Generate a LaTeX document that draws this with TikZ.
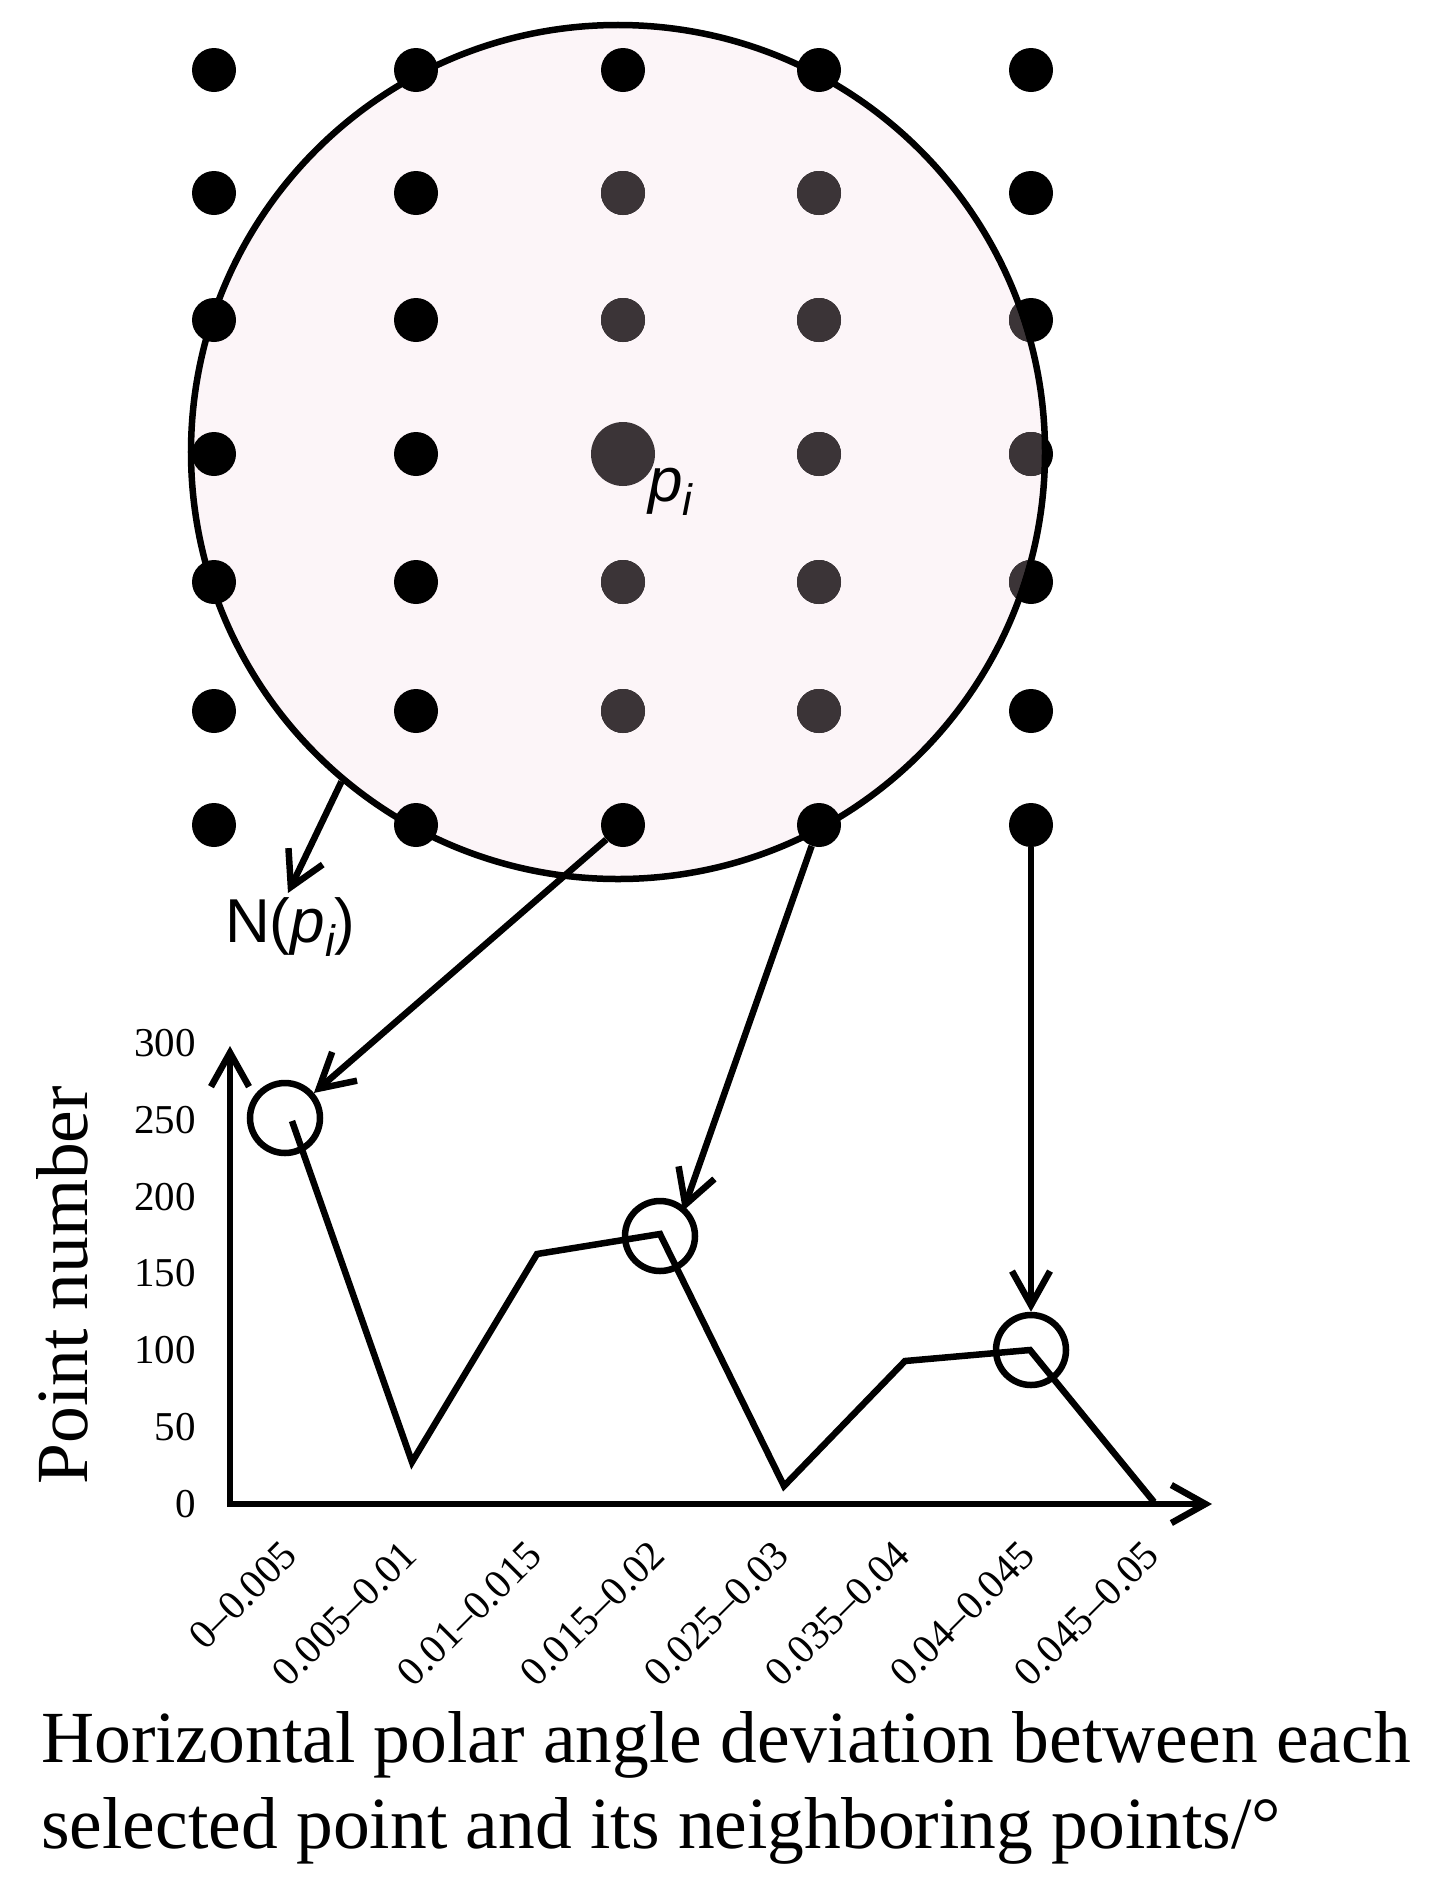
\documentclass[tikz,border=0pt]{standalone}
\usepackage{fontspec}
\setmainfont{Liberation Serif}
\newfontfamily\arialf{Liberation Sans}
\usetikzlibrary{arrows.meta}
\definecolor{pinkfill}{RGB}{252,245,248}
\definecolor{dotgray}{RGB}{59,52,55}
\begin{document}
\begin{tikzpicture}[x=1bp,y=-1bp,
  blk/.style={circle, fill=black, inner sep=0pt, minimum size=44bp},
  arr/.style={-{Straight Barb[length=34bp,width=38bp]}, line width=6.5bp},
  axarr/.style={{Straight Barb[length=34bp,width=38bp]}-{Straight Barb[length=34bp,width=38bp]}, line width=6.5bp},
  mark circ/.style={circle, draw, line width=6.5bp, minimum size=70bp, inner sep=0pt},
  sanslab/.style={font=\arialf\fontsize{62bp}{70bp}\selectfont, inner sep=0pt},
  ticklab/.style={font=\fontsize{41bp}{44bp}\selectfont, inner sep=0pt},
  biglab/.style={font=\fontsize{73.5bp}{86bp}\selectfont, inner sep=0pt}
]
\useasboundingbox (0,0) rectangle (1432,1888);

% neighbourhood disc
\fill[pinkfill] (618,452) circle (427bp);

% grid of points
\foreach \c/\x in {1/214,2/416,3/623,4/819,5/1031}
  \foreach \r/\y in {1/70,2/193,3/320,4/454,5/582,6/711,7/825}
    \node[blk] (d\c\r) at (\x,\y) {};

% points inside the neighbourhood
\begin{scope}
  \clip (618,452) circle (424bp);
  \foreach \x in {623,819,1031}
    \foreach \y in {193,320,454,582,711}
      \fill[dotgray] (\x,\y) circle (22bp);
\end{scope}

\node[circle, draw, line width=6.5bp, minimum size=854bp, inner sep=0pt] (bigc) at (618,452) {};

% selected point
\node[circle, fill=dotgray, minimum size=64bp, inner sep=0pt] (pc) at (623,454) {};
\node[sanslab, anchor=base west] (plab) at (648,501) {\itshape p\raisebox{-0.24em}{\fontsize{44bp}{44bp}\selectfont i}};

% N(p_i)
\node[sanslab, anchor=base west] (nlab) at (225,942) {N(\textit{p}\raisebox{-0.24em}{\fontsize{44bp}{44bp}\selectfont\itshape i})};
\coordinate (ntip) at (288,893);
\draw[arr] (bigc.230) -- (ntip);

% chart axes
\coordinate (O) at (230,1504);
\coordinate (Ytop) at (230,1046);
\coordinate (Xend) at (1212,1504);
\draw[axarr] (Ytop) -- (O) -- (Xend);

% y tick labels
\foreach \v/\y in {0/1504,50/1427,100/1350,150/1273,200/1197,250/1120,300/1043}
  \node[ticklab, anchor=east] (yl\v) at (196,\y) {\v};
\node[biglab, rotate=90] (ylab) at (62,1285) {Point number};

% x tick labels
\foreach \i/\x/\t in {1/292/0--0.005,2/412/0.005--0.01,3/537/0.01--0.015,4/660/0.015--0.02,5/784/0.025--0.03,6/905/0.035--0.04,7/1030/0.04--0.045,8/1154/0.045--0.05}
  \node[ticklab, rotate=45, anchor=north east] (xl\i) at (\x-12,1538) {\t};

% data
\coordinate (p1) at (292,1121);
\coordinate (p2) at (412,1462);
\coordinate (p3) at (537,1254);
\coordinate (p4) at (660,1234);
\coordinate (p5) at (784,1486);
\coordinate (p6) at (905,1361);
\coordinate (p7) at (1030,1350);
\coordinate (p8) at (1154,1502);
\draw[line width=6.5bp] (p1) -- (p2) -- (p3) -- (p4) -- (p5) -- (p6) -- (p7) -- (p8);

\node[mark circ] (c1) at (285,1118) {};
\node[mark circ] (c2) at (660,1236) {};
\node[mark circ] (c3) at (1031,1350) {};

% connectors
\coordinate (t2) at (683,1211);
\draw[arr] (d37) -- (c1);
\draw[arr] (d47) -- (t2);
\draw[arr] (d57) -- (c3);

% x axis title
\node[biglab, anchor=base west] (xlab1) at (41,1762) {Horizontal polar angle deviation between each};
\node[biglab, anchor=base west] (xlab2) at (41,1848) {selected point and its neighboring points/°};
\end{tikzpicture}
\end{document}
